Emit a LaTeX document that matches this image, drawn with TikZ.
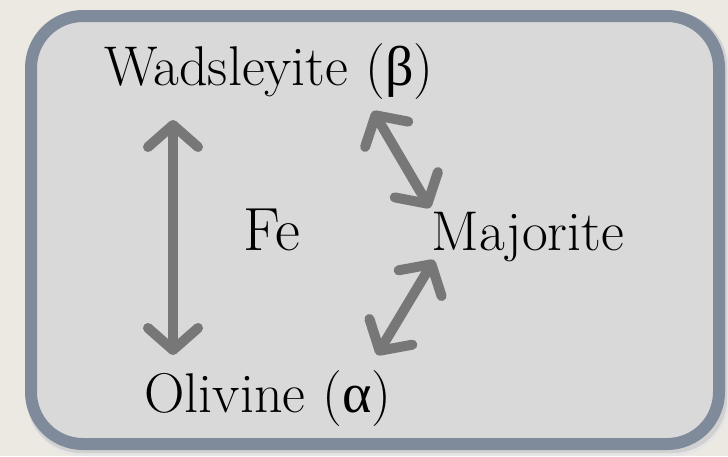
\documentclass[tikz,border=0pt]{standalone}
\usepackage{fontspec}
\newfontfamily\grk{Liberation Serif}
\usetikzlibrary{arrows.meta}
\definecolor{bgbeige}{HTML}{ECE9E3}
\definecolor{boxfill}{HTML}{D9D9D9}
\definecolor{boxedge}{HTML}{7F8B9B}
\definecolor{arrowgray}{HTML}{777777}
\tikzset{
  lbl/.style={inner sep=0pt, anchor=base, font=\fontsize{56}{62}\selectfont},
  biglbl/.style={inner sep=0pt, anchor=base, font=\fontsize{61}{66}\selectfont},
  dbl/.style={draw=arrowgray, line width=10pt,
    {Straight Barb[length=22pt,width=50pt,line join=round,line cap=round]}-{Straight Barb[length=22pt,width=50pt,line join=round,line cap=round]}}
}
\begin{document}
\begin{tikzpicture}[x=1pt,y=-1pt]
\fill[bgbeige] (0,0) rectangle (728,456);
\useasboundingbox (0,0) rectangle (728,456);
% shadow
\fill[black!10, rounded corners=56pt] (27,14) rectangle (729,456);
\fill[black!18, rounded corners=54pt] (27,12) rectangle (727,453);
% box
\draw[boxedge, fill=boxfill, line width=12pt, rounded corners=52pt]
  (31,16) rectangle (719,444);
% labels
\node[lbl] (w) at (269,85) {Wadsleyite ({\grk β})};
\node[biglbl] (fe) at (272,250) {Fe};
\node[lbl] (m) at (528,250) {Majorite};
\node[lbl] (o) at (268,412) {Olivine ({\grk α})};
% arrow end points
\coordinate (v1) at (173,120);
\coordinate (v2) at (173,355);
\coordinate (u1) at (373,111);
\coordinate (u2) at (430,208);
\coordinate (l1) at (377,355);
\coordinate (l2) at (434,260);
\draw[dbl] (v1) -- (v2);
\draw[dbl] (u1) -- (u2);
\draw[dbl] (l1) -- (l2);
\end{tikzpicture}
\end{document}
